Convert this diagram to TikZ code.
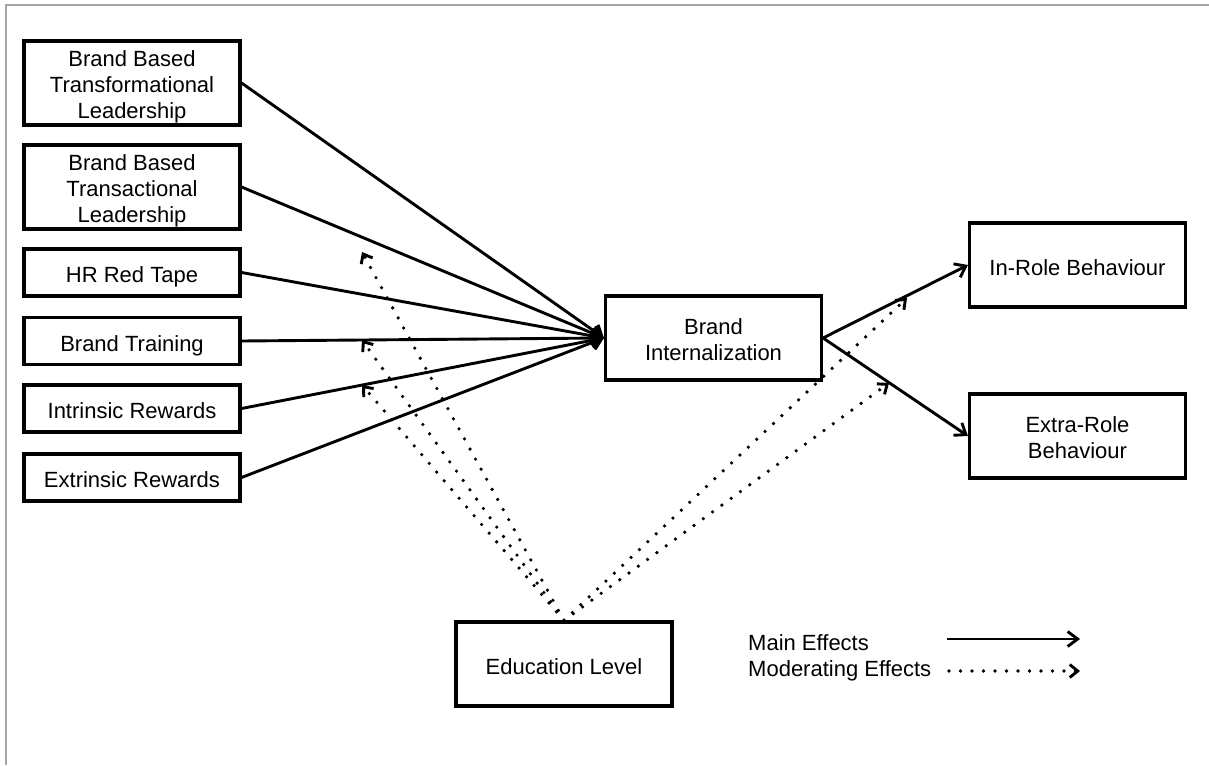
\documentclass[tikz,border=0pt]{standalone}
\usepackage{fontspec}
\setmainfont{Liberation Sans}
\usetikzlibrary{arrows.meta}
% extra room above the first line of a multi-line box text
\newcommand\firstgap{\rule{0pt}{24pt}}
\begin{document}
\begin{tikzpicture}[x=1pt,y=-1pt,
  box/.style={draw, line width=3.1pt, minimum width=216pt, inner sep=0pt,
    align=center, font=\fontsize{22}{26}\selectfont,
    execute at begin node={\rule{0pt}{25.5pt}},
    execute at end node={\rule[-5pt]{0pt}{0pt}}},
  tall/.style={box, minimum height=84pt},
  short/.style={box, minimum height=47pt},
  main/.style={line width=2.9pt, -{Straight Barb[length=10pt,width=15pt,line width=2.9pt]}},
  moder/.style={line width=3.6pt, line cap=round, dash pattern=on 0pt off 11.5pt,
    -{Straight Barb[length=8pt,width=13pt,line width=2.9pt]}},
  legtext/.style={anchor=base west, inner sep=0pt, font=\fontsize{22}{26}\selectfont}]
  % canvas and frame lines
  \useasboundingbox (0,0) rectangle (1209,765);
  \draw[line width=1.5pt, black!35] (6,765) -- (6,5) -- (1209,5);

  % antecedents
  \node[tall]  (trf) at (132,83)    {\firstgap Brand Based\\Transformational\\Leadership};
  \node[tall]  (trs) at (132,187)   {\firstgap Brand Based\\Transactional\\Leadership};
  \node[short] (hr)  at (132,272.5) {HR Red Tape};
  \node[short] (bt)  at (132,341)   {Brand Training};
  \node[short] (ir)  at (132,408.5) {Intrinsic Rewards};
  \node[short] (er)  at (132,477.5) {Extrinsic Rewards};

  % mediator, outcomes, moderator
  \node[tall] (bi)  at (713.5,338)  {\firstgap Brand\\Internalization};
  \node[tall] (inr) at (1077.5,265) {In-Role Behaviour};
  \node[tall] (exr) at (1077.5,436) {\firstgap Extra-Role\\Behaviour};
  \node[tall] (edu) at (564,664)    {Education Level};

  % end points of the moderating effects
  \coordinate (m1) at (362,252);
  \coordinate (m2) at (362,340);
  \coordinate (m3) at (362,385);
  \coordinate (m4) at (907,298);
  \coordinate (m5) at (889,383);

  \foreach \m in {m1,m2,m3,m4,m5}
    \draw[moder] (edu.north) -- (\m);

  % main effects
  \foreach \s in {trf,trs,hr,bt,ir,er}
    \draw[main] (\s.east) -- (bi.west);
  \draw[main] (bi.east) -- (inr.west);
  \draw[main] (bi.east) -- (exr.west);

  % legend
  \node[legtext] (lmain) at (748,650) {Main Effects};
  \node[legtext] (lmod)  at (748,676) {Moderating Effects};
  \coordinate (la1) at (947,639);
  \coordinate (lb1) at (1080,639);
  \coordinate (la2) at (949,671);
  \coordinate (lb2) at (1080,671);
  \draw[main]  (la1) -- (lb1);
  \draw[moder] (la2) -- (lb2);
\end{tikzpicture}
\end{document}
